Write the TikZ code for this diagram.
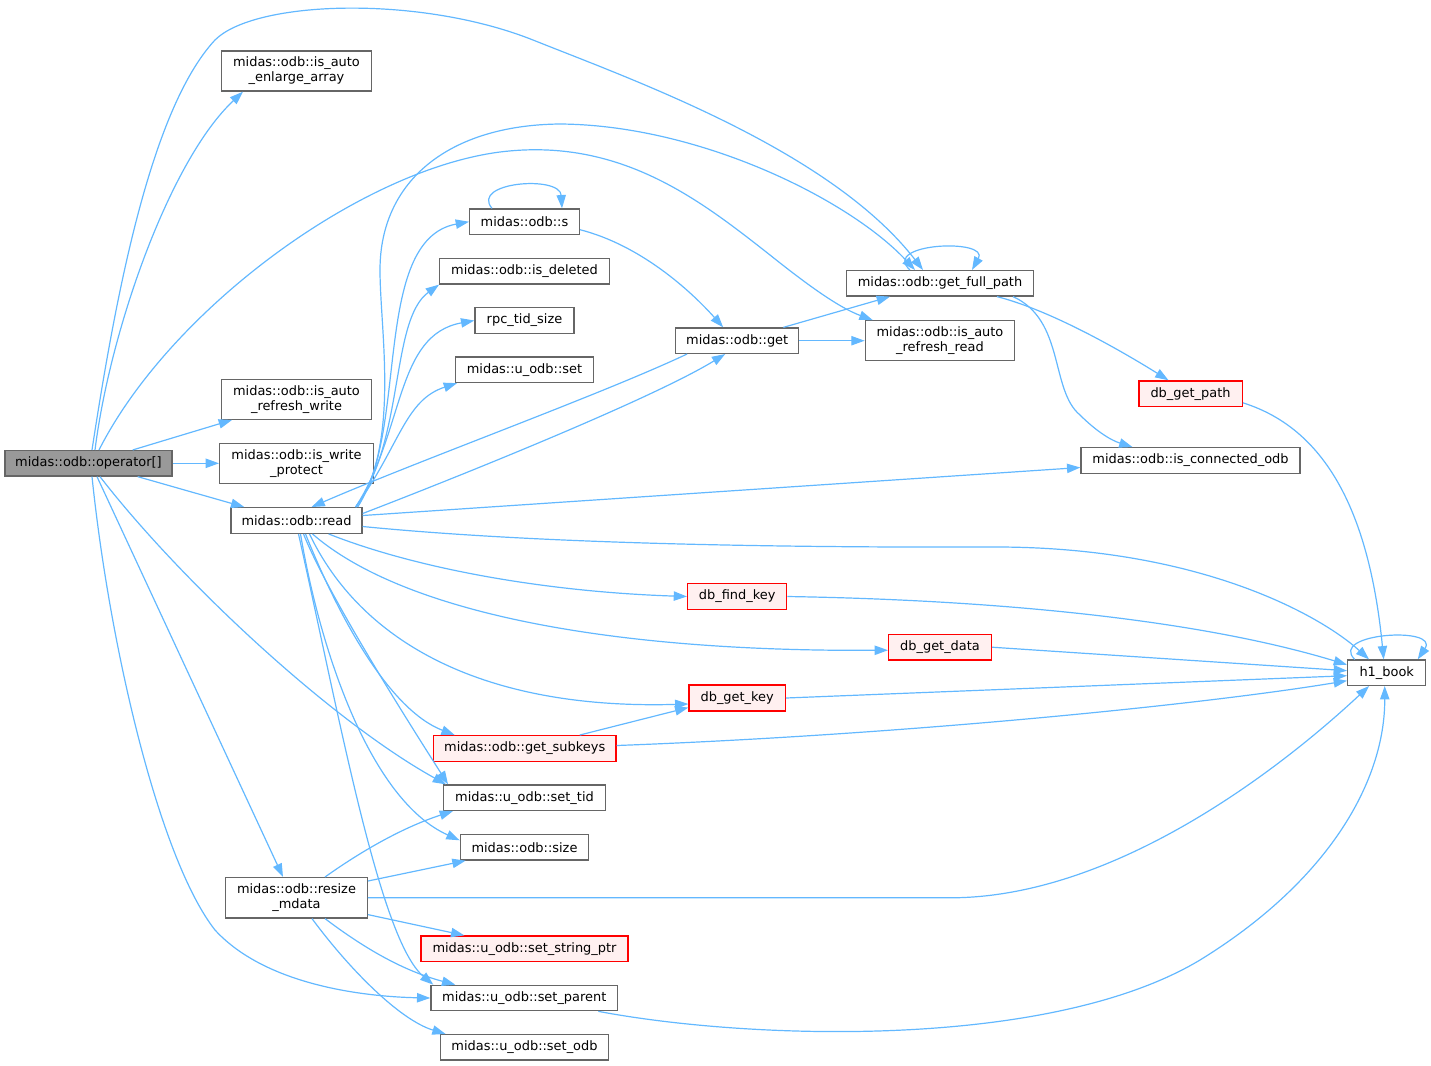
\documentclass[tikz,border=0pt]{standalone}
\usepackage{fontspec}
\setmainfont{DejaVu Sans}
\usetikzlibrary{arrows.meta,calc}
\definecolor{edgec}{HTML}{63B8FF}
\definecolor{nodeb}{HTML}{666666}
\definecolor{redfill}{HTML}{FFF0F0}
\definecolor{opfill}{HTML}{999999}
\begin{document}
\begin{tikzpicture}[x=0.75pt,y=-0.75pt,
  nb/.style={draw=nodeb, fill=white, line width=1pt, inner sep=0pt, align=center,
    font=\fontsize{9.7}{11.25}\selectfont, text=black},
  nr/.style={nb, draw=red, fill=redfill},
  nop/.style={nb, fill=opfill},
  e/.style={draw=edgec, line width=0.9pt, -{Triangle[length=10pt,width=7pt]}},
]
\useasboundingbox (0,0) rectangle (1431,1065);

% nodes
\node[nop, minimum width=125.25pt, minimum height=19pt] (op) at (88.5,463.3) {midas::odb::operator[]};
\node[nb, minimum width=112.2pt, minimum height=30pt] (enl) at (296.5,71) {midas::odb::is\_auto\\\_enlarge\_array};
\node[nb, minimum width=112.2pt, minimum height=30pt] (rw) at (296.5,399.3) {midas::odb::is\_auto\\\_refresh\_write};
\node[nb, minimum width=115.2pt, minimum height=30pt] (wp) at (296.5,463.3) {midas::odb::is\_write\\\_protect};
\node[nb, minimum width=98.25pt, minimum height=19.2pt] (read) at (296.5,520.5) {midas::odb::read};
\node[nb, minimum width=82.2pt, minimum height=19pt] (s) at (524.5,221.7) {midas::odb::s};
\node[nb, minimum width=127.2pt, minimum height=19pt] (isdel) at (524.5,271.3) {midas::odb::is\_deleted};
\node[nb, minimum width=74.25pt, minimum height=19.2pt] (rpc) at (524.5,320.5) {rpc\_tid\_size};
\node[nb, minimum width=103.2pt, minimum height=19pt] (uset) at (524.5,369.8) {midas::u\_odb::set};
\node[nb, minimum width=92.25pt, minimum height=19pt] (get) at (737.2,340.7) {midas::odb::get};
\node[nb, minimum width=140pt, minimum height=19pt] (gfp) at (940,283.3) {midas::odb::get\_full\_path};
\node[nb, minimum width=112pt, minimum height=30pt] (rr) at (940,340.7) {midas::odb::is\_auto\\\_refresh\_read};
\node[nr, minimum width=77.5pt, minimum height=19.3pt] (dbgp) at (1190.5,393.8) {db\_get\_path};
\node[nb, minimum width=164.25pt, minimum height=19.2pt] (ico) at (1190.5,460.5) {midas::odb::is\_connected\_odb};
\node[nb, minimum width=58.5pt, minimum height=19pt] (h1) at (1386.7,672.7) {h1\_book};
\node[nr, minimum width=74.25pt, minimum height=19.2pt] (dfk) at (737.2,596.5) {db\_find\_key};
\node[nr, minimum width=77pt, minimum height=19pt] (dgd) at (940,647.2) {db\_get\_data};
\node[nr, minimum width=72.2pt, minimum height=19.3pt] (dgk) at (737.2,698) {db\_get\_key};
\node[nr, minimum width=137pt, minimum height=19.2pt] (gsk) at (524.7,748.5) {midas::odb::get\_subkeys};
\node[nb, minimum width=121.2pt, minimum height=19pt] (stid) at (524.5,797.7) {midas::u\_odb::set\_tid};
\node[nb, minimum width=96.3pt, minimum height=19pt] (size) at (524.5,847.3) {midas::odb::size};
\node[nb, minimum width=106.2pt, minimum height=30.2pt] (resize) at (296.5,897.8) {midas::odb::resize\\\_mdata};
\node[nr, minimum width=155.25pt, minimum height=19pt] (ssp) at (524.5,948.7) {midas::u\_odb::set\_string\_ptr};
\node[nb, minimum width=140pt, minimum height=19pt] (spar) at (524.3,998) {midas::u\_odb::set\_parent};
\node[nb, minimum width=126.3pt, minimum height=19pt] (sodb) at (524.5,1047.3) {midas::u\_odb::set\_odb};

% edges from operator[]
\draw[e] ($(op.north)+(3.5,0)$) .. controls (115,300) and (150,110) .. (215,40) .. controls (255,0) and (420,-5) .. (533,40) .. controls (633,80) and (830,150) .. ($(gfp.north)+(-17,0)$);
\draw[e] ($(op.north)+(6.5,0)$) .. controls (110,330) and (170,160) .. ($(enl.south)+(-53.5,0)$);
\draw[e] ($(op.north)+(10.5,0)$) .. controls (170,310) and (360,170) .. (500,152) .. controls (620,137) and (700,200) .. (770,255) .. controls (810,287) and (840,308) .. ($(rr.north west)+(8,0)$);
\draw[e] ($(op.north east)+(-40,0)$) -- ($(rw.south west)+(11,0)$);
\draw[e] (op.east) -- (wp.west);
\draw[e] ($(op.south east)+(-35,0)$) -- ($(read.north west)+(14,0)$);
\draw[e] ($(op.south)+(11.5,0)$) .. controls (180,580) and (330,720) .. ($(stid.north west)+(3,0)$);
\draw[e] ($(op.south)+(8.5,0)$) -- ($(resize.north)+(-13.5,0)$);
\draw[e] ($(op.south)+(3.5,0)$) .. controls (110,650) and (160,860) .. (215,930) .. controls (270,990) and (380,997) .. (spar.west);

% edges from read
\draw[e] ($(read.north east)+(-7,0)$) .. controls (410,440) and (370,240) .. (s.west);
\draw[e] ($(read.north east)+(-7,0)$) .. controls (405,440) and (390,320) .. (isdel.south west);
\draw[e] ($(read.north east)+(-7,0)$) .. controls (405,430) and (395,335) .. (rpc.west);
\draw[e] ($(read.north east)+(-7,0)$) .. controls (400,445) and (405,400) .. ($(uset.south west)+(2,0)$);
\draw[e] ($(read.north east)+(-5,0)$) .. controls (400,440) and (380,330) .. (380,270) .. controls (380,180) and (450,125) .. (560,124) .. controls (700,125) and (850,200) .. ($(gfp.north)+(-25,0)$);
\draw[e] ($(read.east)+(0,-7)$) .. controls (450,480) and (650,400) .. ($(get.south)+(-12,0)$);
\draw[e] ($(get.south west)+(12,0)$) .. controls (600,395) and (420,460) .. ($(read.north)+(15,0)$);
\draw[e] ($(read.east)+(0,-5)$) -- ($(ico.west)+(0,7)$);
\draw[e] ($(read.east)+(0,6)$) .. controls (500,540) and (700,548) .. (1000,547) .. controls (1200,548) and (1320,615) .. ($(h1.north west)+(22,0)$);
\draw[e] ($(read.south east)+(-34,0)$) .. controls (420,570) and (550,592) .. (dfk.west);
\draw[e] ($(read.south)+(16,0)$) .. controls (400,610) and (600,652) .. ($(dgd.west)+(0,3)$);
\draw[e] ($(read.south)+(13,0)$) .. controls (360,640) and (480,710) .. ($(dgk.west)+(0,6)$);
\draw[e] ($(read.south)+(9,0)$) .. controls (340,620) and (390,710) .. ($(gsk.north west)+(22,0)$);
\draw[e] ($(read.south)+(7,0)$) .. controls (330,600) and (420,740) .. ($(stid.north west)+(5,0)$);
\draw[e] ($(read.south)+(4,0)$) .. controls (320,650) and (370,800) .. ($(size.west)+(0,-7)$);
\draw[e] ($(read.south)+(2,0)$) .. controls (340,720) and (380,940) .. ($(spar.north west)+(3,0)$);

% edges from resize
\draw[e] ($(resize.north)+(28.5,0)$) .. controls (370,845) and (410,825) .. ($(stid.south west)+(10,0)$);
\draw[e] ($(resize.north east)+(0,4)$) -- ($(size.south west)+(6,0)$);
\draw[e] (resize.east) -- (950,897.8) .. controls (1120,897.8) and (1290,760) .. ($(h1.south west)+(22,0)$);
\draw[e] ($(resize.south east)+(0,-4)$) -- ($(ssp.north west)+(44,0)$);
\draw[e] ($(resize.south)+(28.5,0)$) .. controls (360,945) and (400,970) .. ($(spar.north west)+(25,0)$);
\draw[e] ($(resize.south)+(15.5,0)$) .. controls (350,970) and (400,1020) .. ($(sodb.north west)+(6,0)$);

% other edges
\draw[e] ($(s.north)+(-32.5,0)$) .. controls (470,182) and (560,175) .. ($(s.north)+(37.5,0)$);
\draw[e] ($(s.east)+(0,8)$) .. controls (640,245) and (690,290) .. ($(get.north)+(-14,0)$);
\draw[e] ($(get.north east)+(-16,0)$) -- ($(gfp.south)+(-50,0)$);
\draw[e] (get.east) -- (rr.west);
\draw[e] ($(gfp.north)+(-30,0)$) .. controls (880,243) and (990,238) .. ($(gfp.north)+(32,0)$);
\draw[e] ($(gfp.south)+(57,0)$) .. controls (1050,310) and (1120,350) .. ($(dbgp.north)+(-22,0)$);
\draw[e] ($(gfp.south)+(73,0)$) .. controls (1065,320) and (1050,390) .. (1080,415) .. controls (1095,430) and (1110,440) .. ($(ico.north)+(-58,0)$);
\draw[e] ($(dbgp.east)+(0,9)$) .. controls (1330,430) and (1370,520) .. ($(h1.north)+(-3,0)$);
\draw[e] (dfk.east) .. controls (1000,600) and (1200,620) .. ($(h1.west)+(0,-8)$);
\draw[e] (dgd.east) -- ($(h1.west)+(0,-2)$);
\draw[e] (dgk.east) -- ($(h1.west)+(0,3)$);
\draw[e] ($(gsk.north)+(55,0)$) -- ($(dgk.south west)+(0,-4)$);
\draw[e] ($(gsk.east)+(0,-3)$) .. controls (900,735) and (1200,705) .. ($(h1.west)+(0,8)$);
\draw[e] ($(spar.south)+(74,0)$) .. controls (750,1040) and (1050,1050) .. (1200,960) .. controls (1330,880) and (1385,780) .. ($(h1.south)+(-2,0)$);
\draw[e] ($(h1.north)+(-32,0)$) .. controls (1328,633) and (1440,626) .. ($(h1.north)+(31,0)$);
\end{tikzpicture}
\end{document}
